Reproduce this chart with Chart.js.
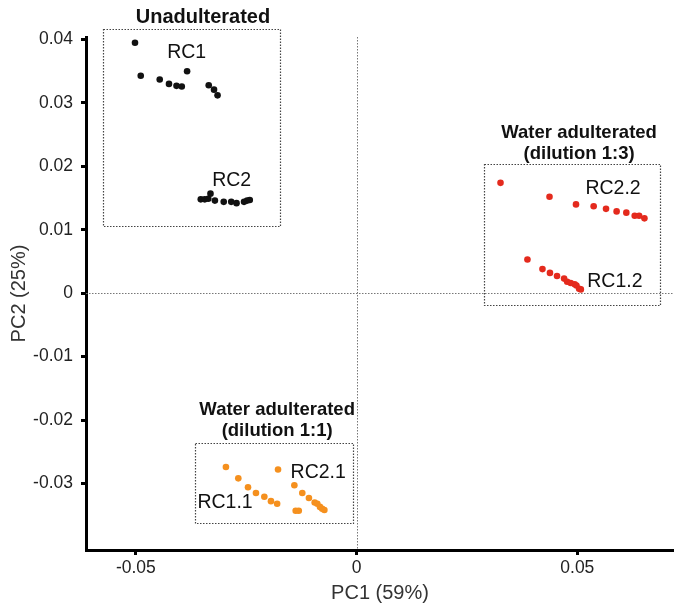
<!DOCTYPE html>
<html>
<head>
<meta charset="utf-8">
<script src="https://cdn.jsdelivr.net/npm/chart.js@4.4.1/dist/chart.umd.min.js"></script>
<style>
html,body{margin:0;padding:0;background:#fff;}
#wrap{width:674px;height:605px;}
</style>
</head>
<body>
<div id="wrap"><canvas id="c" width="674" height="605"></canvas></div>
<script>
// ---- data (PC1, PC2 scores) ----
const rc1X = [-0.0502,-0.0489,-0.0446,-0.0425,-0.0408,-0.0396,-0.0384,-0.0335,-0.0323,-0.0315];
const rc1Y = [0.0395,0.0343,0.0337,0.0330,0.0327,0.0326,0.0350,0.0328,0.0321,0.0312];
const rc2X = [-0.0353,-0.0344,-0.0336,-0.0331,-0.0321,-0.0301,-0.0284,-0.0272,-0.0255,-0.0248,-0.0242];
const rc2Y = [0.0148,0.0148,0.0149,0.0157,0.0146,0.0144,0.0144,0.0142,0.0144,0.0146,0.0147];
const rc22X = [0.0326,0.0437,0.0497,0.0537,0.0565,0.0589,0.0611,0.0630,0.0640,0.0652];
const rc22Y = [0.0174,0.0152,0.0140,0.0137,0.0133,0.0129,0.0127,0.0122,0.0122,0.0118];
const rc12X = [0.0387,0.0421,0.0438,0.0454,0.0470,0.0477,0.0485,0.0494,0.0498,0.0504,0.0508];
const rc12Y = [0.0053,0.0038,0.0032,0.0027,0.0023,0.0018,0.0016,0.0014,0.0012,0.0007,0.0006];
const rc11X = [-0.0296,-0.0268,-0.0246,-0.0228,-0.0209,-0.0194,-0.0180];
const rc11Y = [-0.0274,-0.0292,-0.0306,-0.0315,-0.0321,-0.0328,-0.0332];
const rc21X = [-0.0178,-0.0141,-0.0123,-0.0108,-0.0095,-0.0089,-0.0083,-0.0078,-0.0073,-0.0138,-0.0131];
const rc21Y = [-0.0278,-0.0303,-0.0315,-0.0323,-0.0330,-0.0332,-0.0337,-0.0340,-0.0342,-0.0343,-0.0343];

const xTicks = [-0.05, 0, 0.05];
const yTicks = [-0.03,-0.02,-0.01,0,0.01,0.02,0.03,0.04];
const xTickLabels = ['-0.05','0','0.05'];
const yTickLabels = ['-0.03','-0.02','-0.01','0','0.01','0.02','0.03','0.04'];

// group boxes in data units: [xMin, xMax, yMin, yMax]
const boxUnadulterated = [-0.0574,-0.0174,0.0106,0.0416];
const boxDil13 = [0.0288,0.0687,-0.0019,0.0204];
const boxDil11 = [-0.0366,-0.0008,-0.0363,-0.0237];

// group titles: text, x, y, size
const titleTexts = ['Unadulterated','Water adulterated','(dilution 1:3)','Water adulterated','(dilution 1:1)'];
const titleX = [-0.0348,0.0504,0.0504,-0.0180,-0.0180];
const titleY = [0.0435,0.0252,0.0220,-0.0184,-0.0217];
const titleSize = [20,18.5,18.5,18.5,18.5];

// series labels
const seriesLabels = ['RC1','RC2','RC2.2','RC1.2','RC2.1','RC1.1'];
const labelX = [-0.0385,-0.0283,0.0581,0.0585,-0.0087,-0.0298];
const labelY = [0.0380,0.0178,0.0165,0.0019,-0.0283,-0.0330];

const BLACK = '#111111', RED = '#e42a1d', ORANGE = '#f5901e';
const FONT = '"Liberation Sans", Arial, sans-serif';

function pts(xs, ys){ return xs.map((x,i)=>({x:x, y:ys[i]})); }
function ds(label, xs, ys, color){
  return {label:label, data:pts(xs,ys), backgroundColor:color, borderColor:color,
          pointRadius:3.3, pointBorderWidth:0, showLine:false};
}

const overlay = {
  id:'overlay',
  beforeDatasetsDraw(chart){
    const {ctx, chartArea:a, scales:{x,y}} = chart;
    ctx.save();
    ctx.strokeStyle = '#777';
    ctx.lineWidth = 1;
    ctx.setLineDash([1.5,1.5]);
    const x0 = Math.round(x.getPixelForValue(0))+0.5;
    const y0 = Math.round(y.getPixelForValue(0))+0.5;
    ctx.beginPath(); ctx.moveTo(x0, a.top); ctx.lineTo(x0, a.bottom); ctx.stroke();
    ctx.beginPath(); ctx.moveTo(a.left, y0); ctx.lineTo(a.right, y0); ctx.stroke();
    ctx.restore();
  },
  afterDraw(chart){
    const {ctx, scales:{x,y}} = chart;
    ctx.save();
    ctx.strokeStyle = '#444';
    ctx.lineWidth = 1.2;
    ctx.setLineDash([1.5,1.5]);
    [boxUnadulterated, boxDil13, boxDil11].forEach(b=>{
      const l = x.getPixelForValue(b[0]), r = x.getPixelForValue(b[1]);
      const t = y.getPixelForValue(b[3]), bt = y.getPixelForValue(b[2]);
      ctx.strokeRect(Math.round(l)+0.5, Math.round(t)+0.5, Math.round(r-l), Math.round(bt-t));
    });
    ctx.setLineDash([]);
    ctx.fillStyle = '#111';
    ctx.textAlign = 'center';
    ctx.textBaseline = 'middle';
    titleTexts.forEach((t,i)=>{
      ctx.font = 'bold ' + titleSize[i] + 'px ' + FONT;
      ctx.fillText(t, x.getPixelForValue(titleX[i]), y.getPixelForValue(titleY[i]));
    });
    ctx.font = '19.5px ' + FONT;
    seriesLabels.forEach((t,i)=>{
      ctx.fillText(t, x.getPixelForValue(labelX[i]), y.getPixelForValue(labelY[i]));
    });
    ctx.restore();
  }
};

new Chart(document.getElementById('c'), {
  type:'scatter',
  data:{datasets:[
    ds('RC1', rc1X, rc1Y, BLACK),
    ds('RC2', rc2X, rc2Y, BLACK),
    ds('RC2.2', rc22X, rc22Y, RED),
    ds('RC1.2', rc12X, rc12Y, RED),
    ds('RC1.1', rc11X, rc11Y, ORANGE),
    ds('RC2.1', rc21X, rc21Y, ORANGE)
  ]},
  options:{
    responsive:false,
    animation:false,
    devicePixelRatio:1,
    layout:{autoPadding:false, padding:{top:37,right:0,left:0,bottom:0}},
    plugins:{legend:{display:false}, tooltip:{enabled:false}},
    scales:{
      x:{
        type:'linear', min:-0.0613, max:0.0719,
        afterBuildTicks(ax){ ax.ticks = xTicks.map(v=>({value:v})); },
        afterFit(ax){ ax.height = 55; ax.paddingLeft = 0; ax.paddingRight = 0; },
        border:{display:true, color:'#000', width:3},
        grid:{drawOnChartArea:false, drawTicks:true, tickLength:5, tickWidth:3, tickColor:'#000'},
        ticks:{color:'#222', font:{size:17.5, family:FONT}, padding:3, maxRotation:0,
               callback:(v)=>{ const i = xTicks.indexOf(v); return i>=0 ? xTickLabels[i] : ''; }},
        title:{display:true, text:'PC1 (59%)', color:'#333', font:{size:20, family:FONT}, padding:{top:0,bottom:0}}
      },
      y:{
        type:'linear', min:-0.0405, max:0.0404,
        afterBuildTicks(ax){ ax.ticks = yTicks.map(v=>({value:v})); },
        afterFit(ax){ ax.width = 86; ax.paddingTop = 0; ax.paddingBottom = 0; },
        border:{display:true, color:'#000', width:3},
        grid:{drawOnChartArea:false, drawTicks:true, tickLength:5, tickWidth:3, tickColor:'#000'},
        ticks:{color:'#222', font:{size:17.5, family:FONT}, padding:8,
               callback:(v)=>{ const i = yTicks.indexOf(v); return i>=0 ? yTickLabels[i] : ''; }},
        title:{display:true, text:'PC2 (25%)', color:'#333', font:{size:20, family:FONT}, padding:{top:7,bottom:0}}
      }
    }
  },
  plugins:[overlay]
});
</script>
</body>
</html>
